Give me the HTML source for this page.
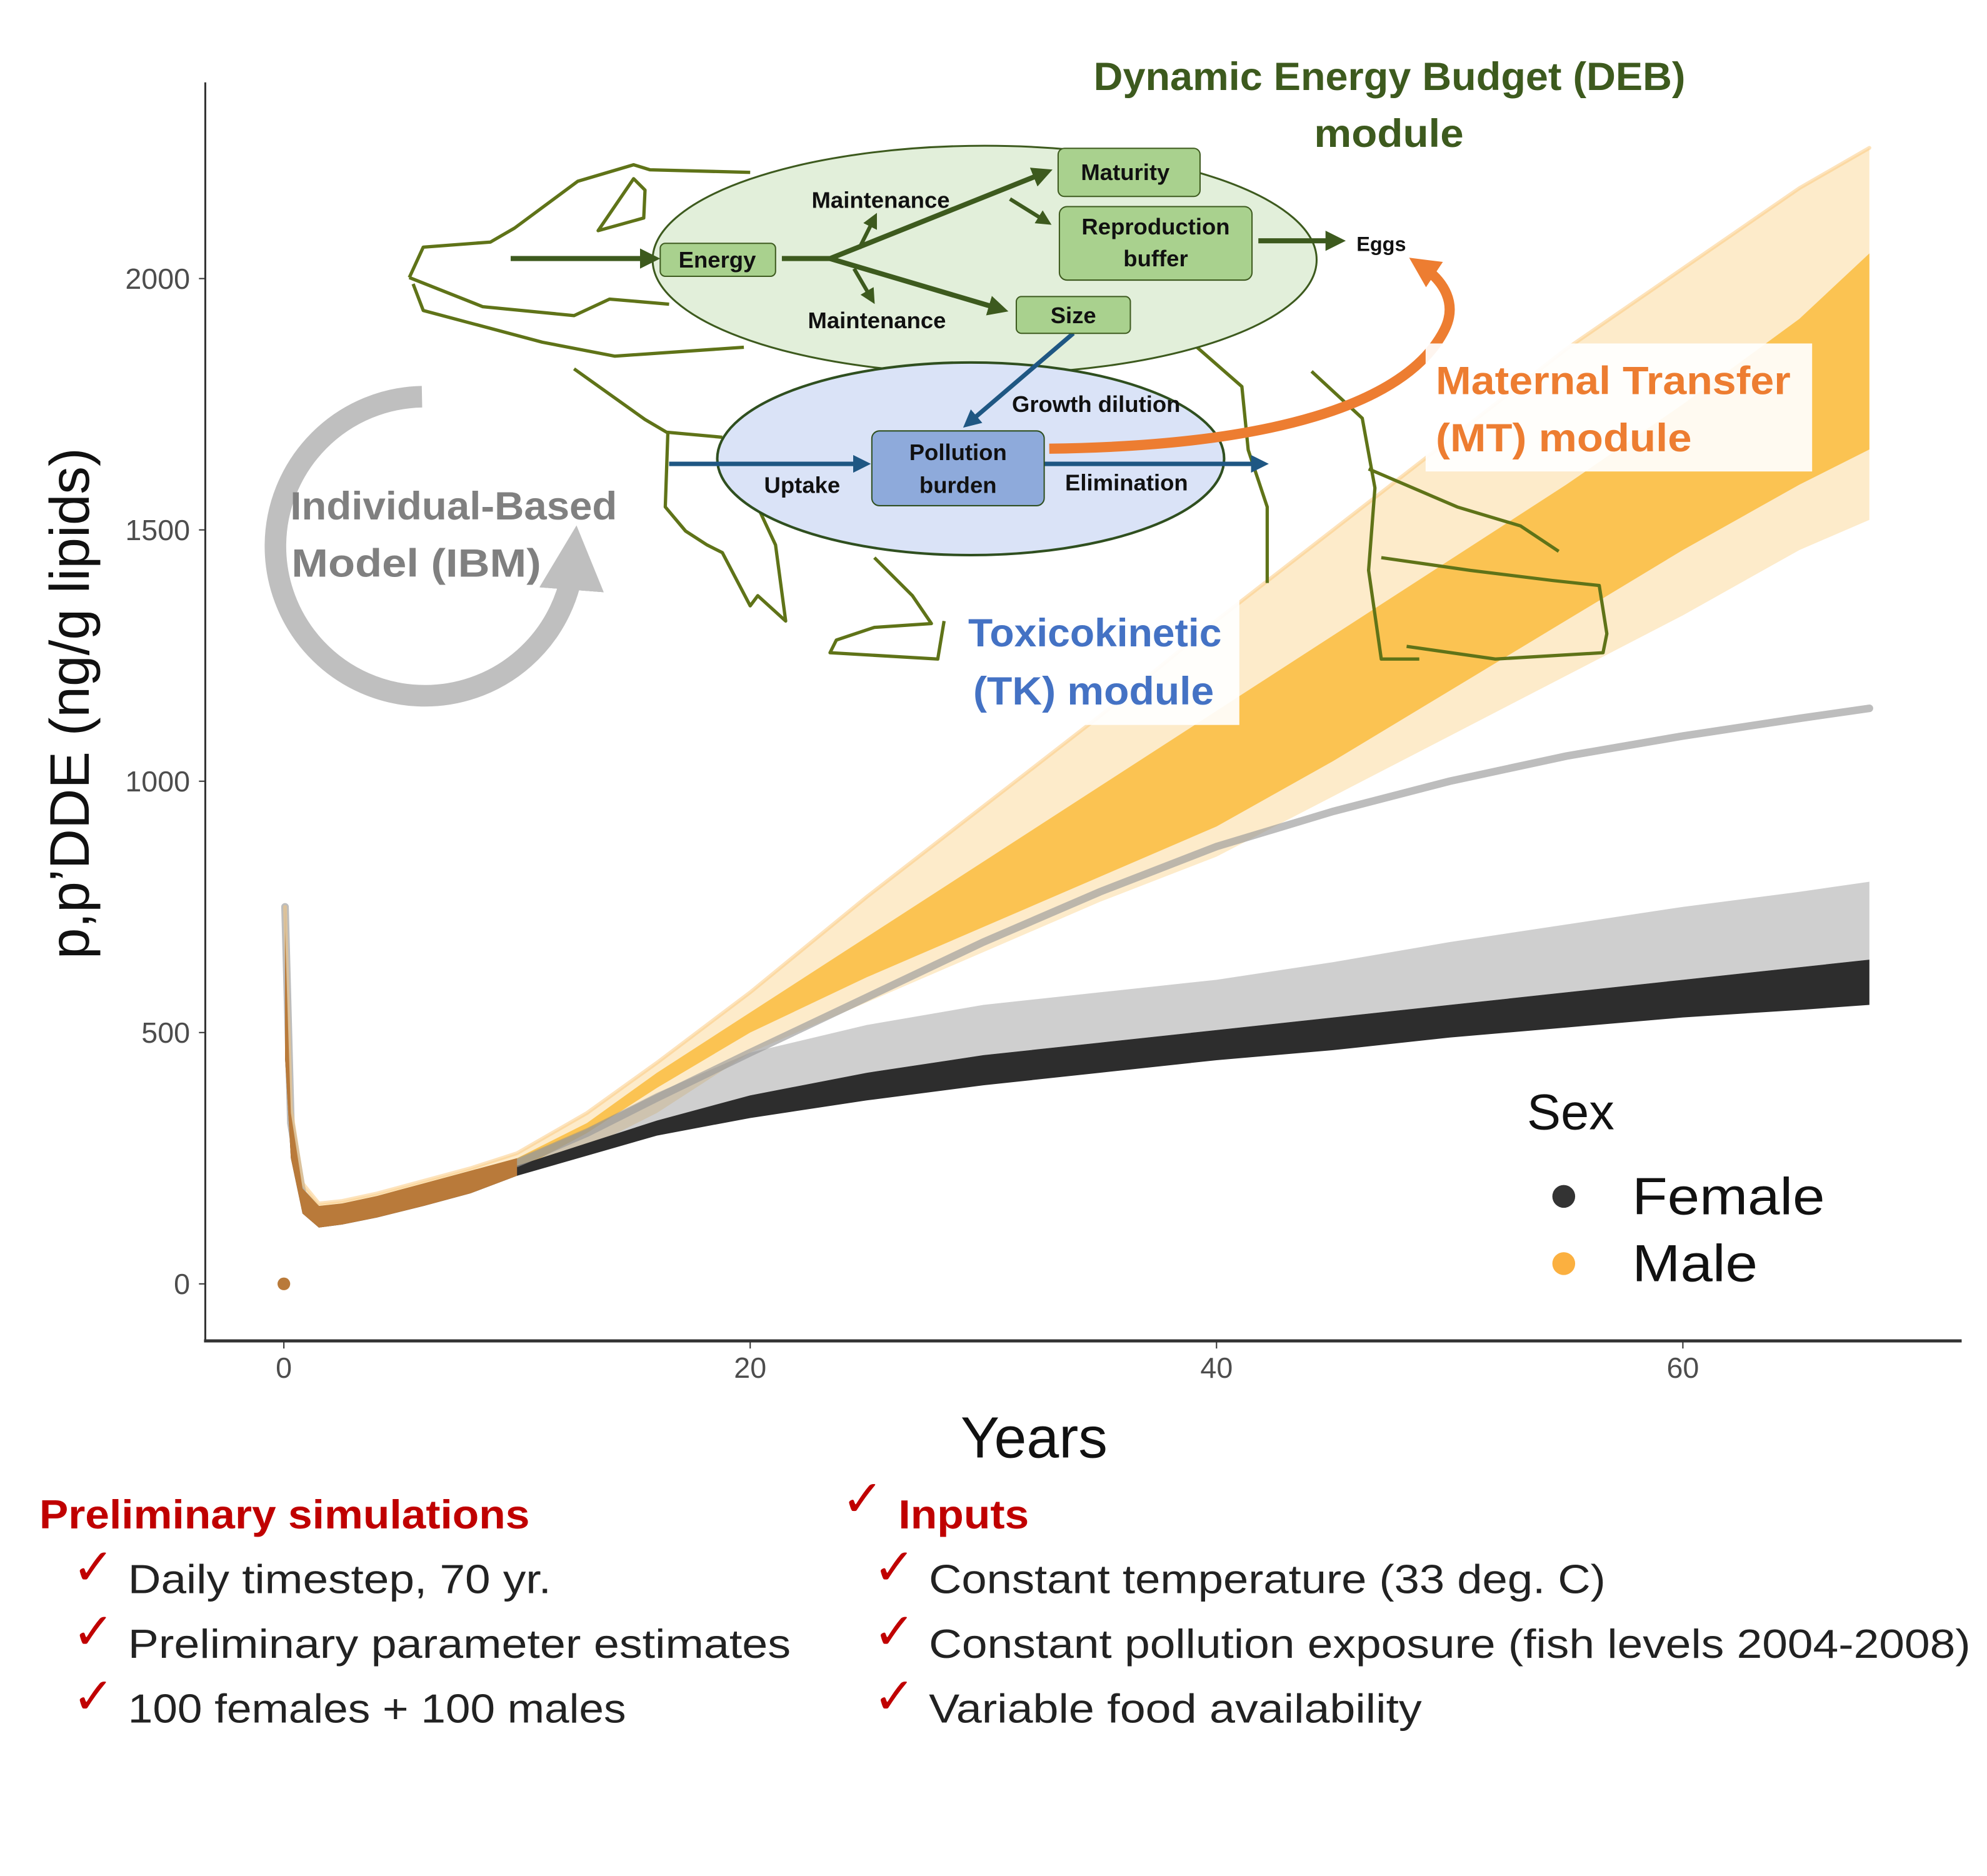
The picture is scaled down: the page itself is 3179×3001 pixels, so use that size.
<!DOCTYPE html>
<html><head><meta charset="utf-8"><style>
html,body{margin:0;padding:0;background:#fff;}
svg{display:block;}
text{font-family:"Liberation Sans",sans-serif;}
</style></head><body>
<svg id="chart" width="3179" height="3001" viewBox="0 0 1568 1480.2" preserveAspectRatio="none" xmlns="http://www.w3.org/2000/svg">
<g id="plot"></g>
<g id="axes"></g>
<g id="diagram">
 <g fill="none" stroke="#5f7318" stroke-width="2.6" stroke-linejoin="round">
  <path d="M323,219 L334,195 L387,191 L406,180 L456,143 L500,130 L513,134 L592,136"/>
  <path d="M472,182 L500,141 L509,150 L508,172 Z"/>
  <path d="M323,219 L381,242 L453,249 L481,236 L528,240"/>
  <path d="M326,224 L334,245 L428,270 L485,281 L587,274"/>
  <path d="M453,291 L509,331 L526,341 L570,345"/>
  <path d="M527,342 L525,400 L541,419 L558,430 L570,436 L592,478 L598,470 L620,490 L612,430 L598,400"/>
  <path d="M690,440 L720,470 L735,492 L690,495 L660,505 L655,515 L740,520 L745,490"/>
  <path d="M940,270 L980,305 L985,355 L1000,400 L1000,460"/>
  <path d="M1035,293 L1075,330 L1085,385 L1080,450 L1090,520 L1120,520"/>
  <path d="M1080,370 L1150,400 L1200,415 L1230,435"/>
  <path d="M1090,440 L1160,450 L1225,458 L1262,462 L1268,500 L1265,515 L1180,520 L1110,510"/>
 </g>
 <ellipse cx="777" cy="205" rx="262" ry="90" fill="#e2efda" stroke="#3d5a1e" stroke-width="1.5"/>
 <ellipse cx="766" cy="362" rx="200" ry="76" fill="#dae3f7" stroke="#2f4f1f" stroke-width="2"/>
 <defs>
  <marker id="ag" markerWidth="4" markerHeight="4" refX="2.5" refY="2" orient="auto"><path d="M0,0 L4,2 L0,4 Z" fill="#3d5a1e"/></marker>
  <marker id="ab" markerWidth="4" markerHeight="4" refX="2.5" refY="2" orient="auto"><path d="M0,0 L4,2 L0,4 Z" fill="#1f5783"/></marker>
  <marker id="ao" markerWidth="3" markerHeight="3" refX="1.5" refY="1.5" orient="auto"><path d="M0,0 L3,1.5 L0,3 Z" fill="#ed7d31"/></marker>
  <marker id="agr" markerWidth="3" markerHeight="3" refX="1.5" refY="1.5" orient="auto"><path d="M0,0 L3,1.5 L0,3 Z" fill="#bfbfbf"/></marker>
 </defs>
 <g stroke="#3d5a1e" stroke-width="4" fill="none">
  <path d="M403,204 L515,204" marker-end="url(#ag)"/>
  <path d="M617,204 L655,204 L825,136" marker-end="url(#ag)"/>
  <path d="M655,204 L790,244" marker-end="url(#ag)"/>
  <path d="M678,196 L690,172" marker-end="url(#ag)" stroke-width="3"/>
  <path d="M674,212 L688,236" marker-end="url(#ag)" stroke-width="3"/>
  <path d="M797,157 L826,175" marker-end="url(#ag)" stroke-width="3"/>
  <path d="M993,190 L1056,190" marker-end="url(#ag)"/>
 </g>
 <g stroke="#1f5783" stroke-width="3.5" fill="none">
  <path d="M847,263 L764,334" marker-end="url(#ab)"/>
  <path d="M528,366 L682,366" marker-end="url(#ab)"/>
  <path d="M824,366 L996,366" marker-end="url(#ab)"/>
 </g>
 <path d="M828,354 C1000,352 1110,320 1140,260 C1150,240 1140,222 1122,210" stroke="#ed7d31" stroke-width="8" fill="none" marker-end="url(#ao)"/>
 <g fill="#a9d18e" stroke="#3d5a1e" stroke-width="1">
  <rect x="521" y="192" width="91" height="26" rx="4"/>
  <rect x="835" y="117" width="112" height="38" rx="5"/>
  <rect x="836" y="163" width="152" height="58" rx="6"/>
  <rect x="802" y="234" width="90" height="29" rx="4"/>
 </g>
 <rect x="688" y="340" width="136" height="59" rx="6" fill="#8eaadb" stroke="#2f4f1f" stroke-width="1"/>
 <g font-weight="bold" font-size="18" fill="#111" text-anchor="middle">
  <text x="566" y="211">Energy</text>
  <text x="888" y="142">Maturity</text>
  <text x="912" y="185">Reproduction</text>
  <text x="912" y="210">buffer</text>
  <text x="847" y="255">Size</text>
  <text x="695" y="164">Maintenance</text>
  <text x="692" y="259">Maintenance</text>
  <text x="1090" y="198" font-size="16">Eggs</text>
  <text x="865" y="325">Growth dilution</text>
  <text x="756" y="363">Pollution</text>
  <text x="756" y="389">burden</text>
  <text x="633" y="389">Uptake</text>
  <text x="889" y="387">Elimination</text>
 </g>
 <g font-weight="bold" font-size="31" fill="#3d5a1e">
  <text x="863" y="71" textLength="467" lengthAdjust="spacingAndGlyphs">Dynamic Energy Budget (DEB)</text>
  <text x="1037" y="116" textLength="118" lengthAdjust="spacingAndGlyphs">module</text>
 </g>
 <rect x="1125" y="271" width="305" height="101" fill="#fff" opacity="0.92"/>
 <g font-weight="bold" font-size="31" fill="#ed7d31">
  <text x="1133" y="311" textLength="280" lengthAdjust="spacingAndGlyphs">Maternal Transfer</text>
  <text x="1133" y="356" textLength="202" lengthAdjust="spacingAndGlyphs">(MT) module</text>
 </g>
 <rect x="750" y="472" width="228" height="100" fill="#fff" opacity="0.92"/>
 <g font-weight="bold" font-size="31" fill="#4472c4">
  <text x="764" y="510" textLength="200" lengthAdjust="spacingAndGlyphs">Toxicokinetic</text>
  <text x="768" y="556" textLength="190" lengthAdjust="spacingAndGlyphs">(TK) module</text>
 </g>
 <path d="M333,313 A118,118 0 1,0 453,440" stroke="#bfbfbf" stroke-width="17" fill="none" marker-end="url(#agr)"/>
 <g font-weight="bold" font-size="31" fill="#808080">
  <text x="229" y="410" textLength="258" lengthAdjust="spacingAndGlyphs">Individual-Based</text>
  <text x="230" y="455" textLength="197" lengthAdjust="spacingAndGlyphs">Model (IBM)</text>
 </g>
</g>
<g id="legend">
 <text x="1205" y="891" font-size="40" fill="#111">Sex</text>
 <circle cx="1234" cy="944" r="9" fill="#333"/>
 <text x="1288" y="958" font-size="41" fill="#111" textLength="152" lengthAdjust="spacingAndGlyphs">Female</text>
 <circle cx="1234" cy="997" r="9" fill="#fbb040"/>
 <text x="1288" y="1011" font-size="41" fill="#111" textLength="99" lengthAdjust="spacingAndGlyphs">Male</text>
</g>
<g id="notes" font-size="32" fill="#222">
 <text x="31" y="1206" fill="#c00000" font-weight="bold" textLength="387" lengthAdjust="spacingAndGlyphs">Preliminary simulations</text>
 <text x="57" y="1250" fill="#c00000" font-size="40" font-family="DejaVu Sans, sans-serif">✓</text>
 <text x="101" y="1257" textLength="334" lengthAdjust="spacingAndGlyphs">Daily timestep, 70 yr.</text>
 <text x="57" y="1301" fill="#c00000" font-size="40" font-family="DejaVu Sans, sans-serif">✓</text>
 <text x="101" y="1308" textLength="523" lengthAdjust="spacingAndGlyphs">Preliminary parameter estimates</text>
 <text x="57" y="1352" fill="#c00000" font-size="40" font-family="DejaVu Sans, sans-serif">✓</text>
 <text x="101" y="1359" textLength="393" lengthAdjust="spacingAndGlyphs">100 females + 100 males</text>
 <text x="664" y="1196" fill="#c00000" font-size="40" font-family="DejaVu Sans, sans-serif">✓</text>
 <text x="709" y="1206" fill="#c00000" font-weight="bold" textLength="103" lengthAdjust="spacingAndGlyphs">Inputs</text>
 <text x="689" y="1250" fill="#c00000" font-size="40" font-family="DejaVu Sans, sans-serif">✓</text>
 <text x="733" y="1257" textLength="534" lengthAdjust="spacingAndGlyphs">Constant temperature (33 deg. C)</text>
 <text x="689" y="1301" fill="#c00000" font-size="40" font-family="DejaVu Sans, sans-serif">✓</text>
 <text x="733" y="1308" textLength="822" lengthAdjust="spacingAndGlyphs">Constant pollution exposure (fish levels 2004-2008)</text>
 <text x="689" y="1352" fill="#c00000" font-size="40" font-family="DejaVu Sans, sans-serif">✓</text>
 <text x="733" y="1359" textLength="389" lengthAdjust="spacingAndGlyphs">Variable food availability</text>
</g>
</svg>
<script>
const years        = [0.05,0.3,0.8,1.5,2.5,4,6,8,10,13,16,20,25,30,35,40,45,50,55,60,65,68];
const femaleLow    = [450,250,140,112,118,132,155,180,215,255,295,330,365,395,420,445,465,490,510,530,545,555];
const femaleCore   = [600,300,170,140,145,160,180,205,235,280,325,375,420,455,480,505,530,555,580,605,630,645];
const femaleTop    = [750,320,180,145,150,165,190,215,250,310,380,460,515,555,580,605,640,680,715,750,780,800];
const femaleOut    = [750,320,180,145,150,165,190,215,240,300,370,460,570,680,780,870,940,1000,1050,1090,1125,1145];
const maleLow      = [450,250,150,125,128,140,160,185,215,270,340,460,560,660,760,850,970,1090,1210,1330,1460,1520];
const maleCoreLow  = [500,270,160,130,135,148,170,195,225,300,390,500,610,710,810,910,1040,1180,1320,1460,1590,1660];
const maleCoreHigh = [700,340,190,155,160,175,200,225,250,320,420,540,690,840,990,1140,1290,1440,1590,1750,1920,2050];
const maleTop      = [750,350,200,160,165,180,205,230,260,340,440,580,770,950,1130,1320,1500,1680,1860,2020,2180,2260];
const yTicks = [0,500,1000,1500,2000];
const xTicks = [0,20,40,60];

const NS='http://www.w3.org/2000/svg';
const X = v => 224 + v*18.4;
const Y = v => 1013 - v*0.3966;
const plot=document.getElementById('plot'), axes=document.getElementById('axes');
function mk(tag,attrs,parent){const e=document.createElementNS(NS,tag);for(const k in attrs)e.setAttribute(k,attrs[k]);parent.appendChild(e);return e;}
function band(lo,hi,fill,op,name){
  let d='M'+years.map((t,i)=>X(t)+','+Y(hi[i])).join(' L');
  d+=' L'+years.slice().reverse().map((t,i)=>X(t)+','+Y(lo[lo.length-1-i])).join(' L')+' Z';
  const p=mk('path',{d:d,fill:fill,'fill-opacity':op},plot);
  
  
}
function line(arr,color,w,op,name){
  const p=mk('path',{d:'M'+years.map((t,i)=>X(t)+','+Y(arr[i])).join(' L'),stroke:color,'stroke-width':w,'stroke-opacity':op,fill:'none','stroke-linecap':'round'},plot);
  
  
}
band(maleLow,maleTop,'#fbd38a',0.45,'male-faint-band');
band(maleCoreLow,maleCoreHigh,'#fbbf45',0.9,'male-core-band');
band(femaleCore,femaleTop,'#888',0.4,'female-faint-band');
band(femaleLow,femaleCore,'#2d2d2d',1,'female-core-band');
line(femaleOut,'#999',6,0.65,'female-outlier-line');
line(maleTop,'#fbc77a',3,0.5,'male-top-line');
const early=years.filter(t=>t<=10).length;
let d='M'+years.slice(0,early).map((t,i)=>X(t)+','+Y(maleCoreHigh[i])).join(' L');
d+=' L'+years.slice(0,early).reverse().map((t,i)=>X(t)+','+Y(femaleLow[early-1-i])).join(' L')+' Z';
const eb=mk('path',{d:d,fill:'#b97a3a'},plot);


const dot=mk('circle',{cx:X(0),cy:Y(0),r:5,fill:'#b97a3a'},plot);



const ya=mk('line',{x1:162,y1:65,x2:162,y2:1058,stroke:'#333','stroke-width':1.5},axes);


const xa=mk('line',{x1:161,y1:1058,x2:1548,y2:1058,stroke:'#333','stroke-width':2.5},axes);


yTicks.forEach(v=>{
  const t=mk('line',{x1:157,y1:Y(v),x2:162,y2:Y(v),stroke:'#333','stroke-width':1},axes);
  
  
  const l=mk('text',{x:150,y:Y(v)+8,'text-anchor':'end','font-size':23,fill:'#4d4d4d'},axes);
  l.textContent=v;
  
  
});
xTicks.forEach(v=>{
  const t=mk('line',{x1:X(v),y1:1058,x2:X(v),y2:1064,stroke:'#333','stroke-width':1},axes);
  
  
  const l=mk('text',{x:X(v),y:1087,'text-anchor':'middle','font-size':23,fill:'#4d4d4d'},axes);
  l.textContent=v;
  
  
});
const xt=mk('text',{x:816,y:1150,'text-anchor':'middle','font-size':46,fill:'#111'},axes);
xt.textContent='Years';


const yt=mk('text',{x:0,y:0,'text-anchor':'middle','font-size':44,fill:'#111',transform:'translate(70,555) rotate(-90)'},axes);
yt.textContent='p,p\u2019DDE (ng/g lipids)';


</script>
</body></html>
